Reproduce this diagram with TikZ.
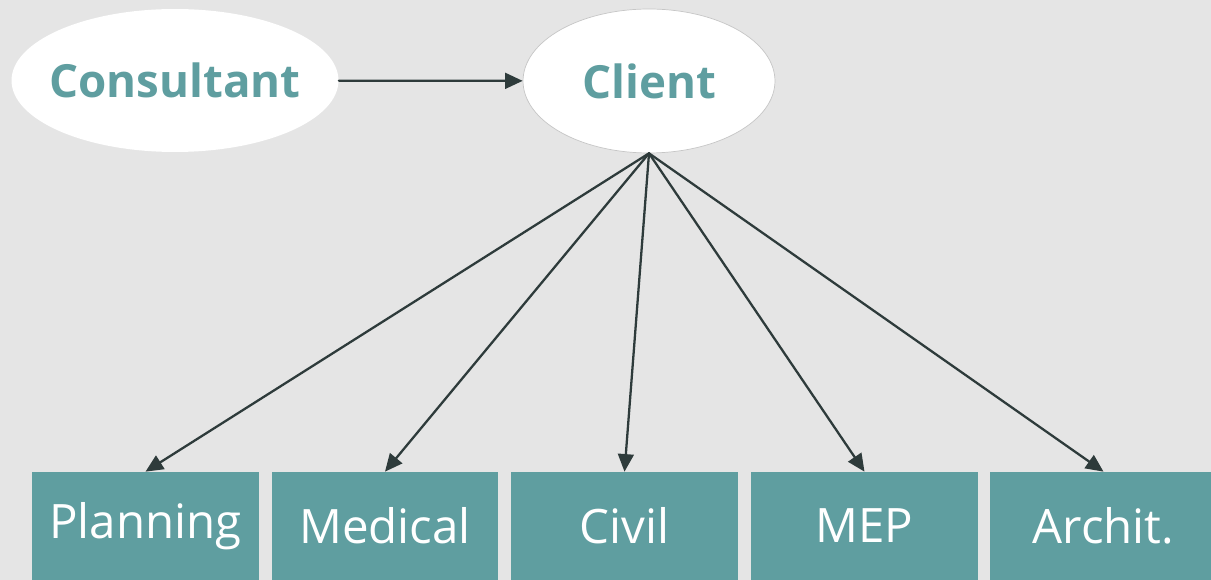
\documentclass[tikz,border=0pt]{standalone}
\usepackage{fontspec}
\setmainfont{Open Sans}
\usetikzlibrary{shapes.geometric,arrows.meta}
\definecolor{bggray}{HTML}{E5E5E5}
\definecolor{tealc}{HTML}{5F9EA0}
\definecolor{arrowc}{HTML}{2E3B3B}
\begin{document}
\begin{tikzpicture}[line cap=round,line join=round,>={Triangle[length=10pt,width=9pt]},x=0.02cm,y=-0.02cm,
	oval/.style={ellipse,fill=white,inner sep=0pt},
	ovaltext/.style={text=tealc,font=\bfseries\fontsize{26}{31}\selectfont},
	dept/.style={rectangle,fill=tealc,text=white,minimum width=4.54cm,minimum height=2.16cm,inner sep=0pt,font=\fontsize{27}{32}\selectfont},
	link/.style={->,draw=arrowc,line width=1.3pt}]
				\fill[bggray] (0,0) rectangle (1211,580);
				\useasboundingbox (0,0) rectangle (1211,580);
				\clip (0,0) rectangle (1211,580);
				\node[oval,minimum width=6.54cm,minimum height=2.86cm,label={[ovaltext]center:Consultant}] (cons) at (175,80.5) {};
				\node[oval,draw=gray!45,line width=0.4pt,minimum width=5.04cm,minimum height=2.88cm,label={[ovaltext]center:Client}] (client) at (649,81) {};
				\node[dept] (plan) at (145.5,526) {Planning};
				\node[dept] (med) at (385,526) {Medical};
				\node[dept] (civil) at (624.5,526) {Civil};
				\node[dept] (mep) at (864.5,526) {MEP};
				\node[dept] (arch) at (1103.5,526) {Archit.};
				\draw[link] (cons) -- (client);
				\draw[link] (client.south) -- (plan.north);
				\draw[link] (client.south) -- (med.north);
				\draw[link] (client.south) -- (civil.north);
				\draw[link] (client.south) -- (mep.north);
				\draw[link] (client.south) -- (arch.north);
			\end{tikzpicture}
\end{document}
